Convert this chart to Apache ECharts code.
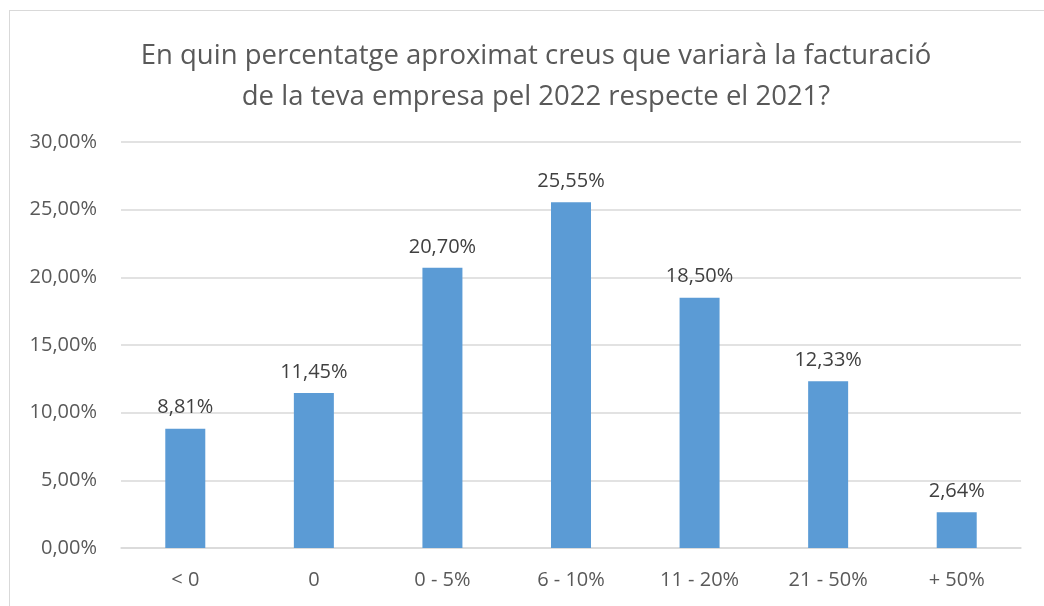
<!DOCTYPE html>
<html>
<head>
<meta charset="utf-8">
<script src="https://cdn.jsdelivr.net/npm/echarts@6/dist/echarts.min.js"></script>
<style>
  html, body { margin: 0; padding: 0; background: #fff; }
  #frame { position: absolute; left: 9px; top: 10px; width: 1060px; height: 620px; border: 1px solid #d9d9d9; }
  #chart { position: absolute; left: 0; top: 0; width: 1044px; height: 606px; }
</style>
</head>
<body>
<div id="frame"></div>
<div id="chart"></div>
<script>
const categories = ['< 0', '0', '0 - 5%', '6 - 10%', '11 - 20%', '21 - 50%', '+ 50%'];
const values = [8.81, 11.45, 20.70, 25.55, 18.50, 12.33, 2.64];

const fmt = (v) => v.toFixed(2).replace('.', ',') + '%';
const fontFamily = '"Open Sans", sans-serif';

let chart = echarts.init(document.getElementById('chart'));
let option = {
  animation: false,
  title: {
    text: 'En quin percentatge aproximat creus que variarà la facturació\nde la teva empresa pel 2022 respecte el 2021?',
    left: 531,
    top: 31,
    textAlign: 'center',
    textStyle: {
      color: '#595959',
      fontSize: 27.5,
      fontWeight: 'normal',
      fontFamily: fontFamily,
      lineHeight: 41
    }
  },
  grid: {
    left: 121,
    right: 23,
    top: 142,
    bottom: 58
  },
  xAxis: {
    type: 'category',
    data: categories,
    axisTick: { show: false },
    axisLine: { lineStyle: { color: '#d9d9d9', width: 1.5 } },
    axisLabel: {
      color: '#595959',
      fontSize: 20,
      fontFamily: fontFamily,
      margin: 22
    }
  },
  yAxis: {
    type: 'value',
    min: 0,
    max: 30,
    interval: 5,
    axisLine: { show: false },
    axisTick: { show: false },
    axisLabel: {
      color: '#595959',
      fontSize: 20,
      fontFamily: fontFamily,
      margin: 24,
      formatter: fmt
    },
    splitLine: { lineStyle: { color: '#d9d9d9', width: 1.5 } }
  },
  series: [
    {
      type: 'bar',
      data: values,
      barWidth: 40,
      itemStyle: { color: '#5b9bd5' },
      label: {
        show: true,
        position: 'top',
        distance: 11,
        color: '#404040',
        fontSize: 20,
        fontFamily: fontFamily,
        formatter: (p) => fmt(p.value)
      }
    }
  ]
};
chart.setOption(option);
</script>
</body>
</html>
